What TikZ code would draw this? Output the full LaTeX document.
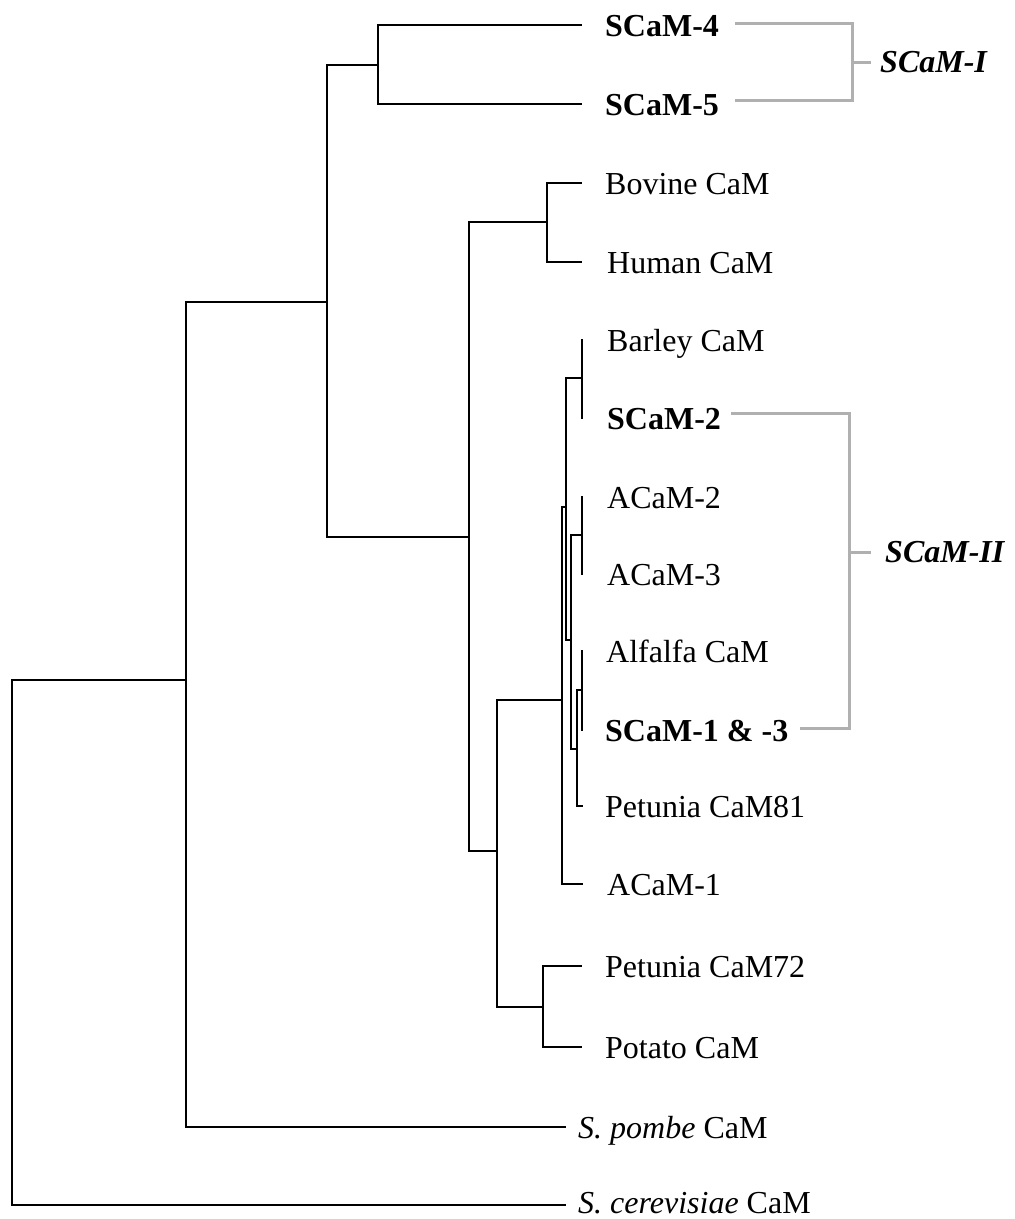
\documentclass[tikz,border=0pt]{standalone}
\usepackage{fontspec}
\setmainfont{Liberation Serif}
\begin{document}
\begin{tikzpicture}[x=1pt,y=-1pt,
  br/.style={draw=gray!62,line width=3pt},
  tr/.style={draw=black,line width=2.8pt,line cap=rect},
  lab/.style={anchor=base west,inner sep=0pt,font=\fontsize{32}{38}\selectfont},
  grp/.style={anchor=west,inner sep=0pt,font=\fontsize{32}{38}\selectfont\bfseries\itshape}]
\fill[white] (0,0) rectangle (1015,1219);
\useasboundingbox (0,0) rectangle (1015,1219);
% internal nodes
\coordinate (root) at (12,680);
\coordinate (A) at (186,680);
\coordinate (B) at (327,302);
\coordinate (SI) at (378,65);
\coordinate (C) at (469,537);
\coordinate (Mam) at (547,222);
\coordinate (D) at (497,851);
\coordinate (F) at (543,1007);
\coordinate (E) at (562,700);
\coordinate (M) at (566,507);
\coordinate (H) at (582,378);
\coordinate (L) at (571,640);
\coordinate (I) at (582,535);
\coordinate (K) at (577,749);
\coordinate (J) at (582,690);
% leaves
\coordinate (t4) at (581,25);
\coordinate (t5) at (581,104);
\coordinate (tbov) at (581,183);
\coordinate (thum) at (581,262);
\coordinate (tbar) at (582,340);
\coordinate (ts2) at (582,418);
\coordinate (ta2) at (582,497);
\coordinate (ta3) at (582,574);
\coordinate (talf) at (582,651);
\coordinate (ts13) at (582,730);
\coordinate (tp81) at (582,806);
\coordinate (ta1) at (582,884);
\coordinate (tp72) at (581,966);
\coordinate (tpot) at (581,1047);
\coordinate (tpom) at (565,1127);
\coordinate (tcer) at (565,1205);
% tree
\draw[tr] (root) |- (A);
\draw[tr] (root) |- (tcer);
\draw[tr] (A) |- (B);
\draw[tr] (A) |- (tpom);
\draw[tr] (B) |- (SI);
\draw[tr] (B) |- (C);
\draw[tr] (SI) |- (t4);
\draw[tr] (SI) |- (t5);
\draw[tr] (C) |- (Mam);
\draw[tr] (C) |- (D);
\draw[tr] (Mam) |- (tbov);
\draw[tr] (Mam) |- (thum);
\draw[tr] (D) |- (E);
\draw[tr] (D) |- (F);
\draw[tr] (F) |- (tp72);
\draw[tr] (F) |- (tpot);
\draw[tr] (E) |- (M);
\draw[tr] (E) |- (ta1);
\draw[tr] (M) |- (H);
\draw[tr] (M) |- (L);
\draw[tr] (H) -- (tbar);
\draw[tr] (H) -- (ts2);
\draw[tr] (L) |- (I);
\draw[tr] (L) |- (K);
\draw[tr] (I) -- (ta2);
\draw[tr] (I) -- (ta3);
\draw[tr] (K) |- (J);
\draw[tr] (K) |- (tp81);
\draw[tr] (J) -- (talf);
\draw[tr] (J) -- (ts13);
% labels
\node[lab] (l4) at (605,36) {\bfseries SCaM-4};
\node[lab] (l5) at (605,115) {\bfseries SCaM-5};
\node[lab] (lbov) at (605,194) {Bovine CaM};
\node[lab] (lhum) at (607,273) {Human CaM};
\node[lab] (lbar) at (607,351) {Barley CaM};
\node[lab] (ls2) at (607,429) {\bfseries SCaM-2};
\node[lab] (la2) at (607,508) {ACaM-2};
\node[lab] (la3) at (607,585) {ACaM-3};
\node[lab] (lalf) at (606,662) {Alfalfa CaM};
\node[lab] (ls13) at (605,741) {\bfseries SCaM-1 \& -3};
\node[lab] (lp81) at (605,817) {Petunia CaM81};
\node[lab] (la1) at (607,895) {ACaM-1};
\node[lab] (lp72) at (605,977) {Petunia CaM72};
\node[lab] (lpot) at (605,1058) {Potato CaM};
\node[lab] (lpom) at (578,1138) {\itshape S. pombe\/\upshape{} CaM};
\node[lab] (lcer) at (578,1213) {\itshape S. cerevisiae\/\upshape{} CaM};
% group brackets
\node[grp] (g1) at (880,62) {SCaM-I};
\node[grp] (g2) at (885,552) {SCaM-II};
\coordinate (g1a) at (735,23);
\coordinate (g1b) at (735,100);
\coordinate (g1c) at (852,62);
\draw[br] (g1a) -| (g1c) |- (g1b);
\draw[br] (g1c) -- ([xshift=-9pt]g1.west);
\coordinate (g2a) at (731,413);
\coordinate (g2b) at (800,728);
\coordinate (g2c) at (849,552);
\draw[br] (g2a) -| (g2c) |- (g2b);
\draw[br] (g2c) -- ([xshift=-14pt]g2.west);
\end{tikzpicture}
\end{document}
